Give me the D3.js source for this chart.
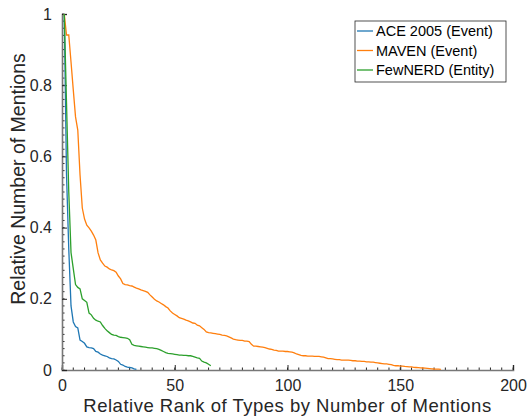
<!DOCTYPE html>
<html>
<head>
<meta charset="utf-8">
<script src="https://cdn.jsdelivr.net/npm/d3@7"></script>
<style>
	body { margin: 0; background: #fff; }
	svg { display: block; font-family: "Liberation Sans", Arial, sans-serif; }
</style>
</head>
<body>
<svg id="chart" width="529" height="416"></svg>
<script>
var seriesNames = ["ACE 2005 (Event)", "MAVEN (Event)", "FewNERD (Entity)"],
		seriesColors = ["#1f77b4", "#ff7f0e", "#2ca02c"];

// relative number of mentions, by rank 1..N
var ace = [1.0, 0.55, 0.34, 0.18, 0.135, 0.122, 0.118, 0.084, 0.080, 0.075,
	0.065, 0.063, 0.062, 0.060, 0.052, 0.050, 0.045, 0.042, 0.040, 0.038,
	0.034, 0.032, 0.031, 0.028, 0.024, 0.016, 0.014, 0.010, 0.008, 0.007,
	0.006, 0.003, 0.002];

var maven = [1.0, 0.941, 0.941, 0.865, 0.787, 0.711, 0.674, 0.548, 0.455, 0.424,
	0.407, 0.399, 0.390, 0.379, 0.365, 0.329, 0.309, 0.300, 0.292, 0.289,
	0.284, 0.281, 0.279, 0.275, 0.264, 0.256, 0.243, 0.240, 0.239, 0.237,
	0.236, 0.233, 0.230, 0.228, 0.225, 0.223, 0.221, 0.218, 0.211, 0.205,
	0.199, 0.194, 0.191, 0.187, 0.183, 0.178, 0.174, 0.166, 0.160, 0.156,
	0.152, 0.147, 0.145, 0.143, 0.140, 0.138, 0.135, 0.132, 0.131, 0.126,
	0.124, 0.119, 0.114, 0.107, 0.105, 0.104, 0.103, 0.102, 0.101, 0.100,
	0.098, 0.097, 0.096, 0.093, 0.090, 0.087, 0.085, 0.084, 0.083, 0.083,
	0.081, 0.081, 0.080, 0.072, 0.067, 0.067, 0.066, 0.065, 0.064, 0.063,
	0.061, 0.059, 0.058, 0.056, 0.055, 0.053, 0.053, 0.053, 0.052, 0.052,
	0.051, 0.050, 0.048, 0.045, 0.043, 0.041, 0.040, 0.040, 0.039, 0.039,
	0.039, 0.038, 0.038, 0.038, 0.037, 0.036, 0.034, 0.032, 0.032, 0.031,
	0.030, 0.029, 0.029, 0.028, 0.028, 0.028, 0.028, 0.027, 0.026, 0.026,
	0.025, 0.025, 0.024, 0.024, 0.023, 0.023, 0.022, 0.022, 0.021, 0.020,
	0.019, 0.018, 0.017, 0.017, 0.016, 0.015, 0.013, 0.012, 0.012, 0.011,
	0.011, 0.010, 0.0095, 0.009, 0.0085, 0.0075, 0.007, 0.0065, 0.006, 0.0056,
	0.005, 0.0045, 0.004, 0.0034, 0.0028, 0.0025, 0.0022, 0.002];

var fewnerd = [1.0, 0.75, 0.50, 0.33, 0.285, 0.24, 0.232, 0.228, 0.200, 0.195,
	0.190, 0.160, 0.155, 0.145, 0.140, 0.137, 0.135, 0.125, 0.117, 0.110,
	0.105, 0.100, 0.098, 0.097, 0.094, 0.092, 0.091, 0.090, 0.089, 0.085,
	0.072, 0.069, 0.068, 0.067, 0.066, 0.065, 0.064, 0.063, 0.062, 0.062,
	0.061, 0.060, 0.058, 0.055, 0.052, 0.049, 0.047, 0.046, 0.045, 0.044,
	0.043, 0.042, 0.042, 0.041, 0.041, 0.040, 0.040, 0.038, 0.036, 0.034,
	0.033, 0.025, 0.022, 0.020, 0.016, 0.012];

var xTicks = [0, 50, 100, 150, 200],
		yTicks = [0, 0.2, 0.4, 0.6, 0.8, 1];

var svg = d3.select("#chart");
var margin = {top: 14, right: 16, bottom: 46, left: 62};
var width = 529 - margin.left - margin.right,
		height = 416 - margin.top - margin.bottom;

var x = d3.scaleLinear().domain([0, 200]).range([0, 451]),
		y = d3.scaleLinear().domain([0, 1]).range([height, 0]);

var g = svg.append("g")
		.attr("transform", "translate(" + margin.left + "," + margin.top + ")");

// minor ticks
g.append("g").selectAll("line")
	.data(d3.range(0, 201, 5))
	.enter().append("line")
		.attr("x1", function(d) { return x(d); })
		.attr("x2", function(d) { return x(d); })
		.attr("y1", height)
		.attr("y2", height - 2.5)
		.attr("stroke", "#262626");
g.append("g").selectAll("line")
	.data(d3.range(0, 1.001, 0.02))
	.enter().append("line")
		.attr("y1", function(d) { return y(d); })
		.attr("y2", function(d) { return y(d); })
		.attr("x1", 0)
		.attr("x2", 2.5)
		.attr("stroke", "#262626");

var xAxis = d3.axisBottom(x).tickValues(xTicks).tickSize(-5).tickPadding(6),
		yAxis = d3.axisLeft(y).tickValues(yTicks).tickSize(-5).tickPadding(10)
			.tickFormat(function(d) { return d3.format("")(d); });

var gx = g.append("g")
		.attr("transform", "translate(0," + height + ")")
		.call(xAxis);
var gy = g.append("g").call(yAxis);

[gx, gy].forEach(function(ax) {
	ax.select(".domain").attr("stroke", "#777").attr("stroke-width", 1.6);
	ax.selectAll(".tick line").attr("stroke", "#262626");
	ax.selectAll(".tick text")
		.attr("fill", "#262626")
		.style("font-size", "16px")
		.style("font-family", "Liberation Sans, Arial, sans-serif");
});
gx.selectAll(".tick text").attr("dy", "0.95em");

var line = d3.line()
		.x(function(d, i) { return x(i + 1); })
		.y(function(d) { return y(d); });

[ace, maven, fewnerd].forEach(function(data, i) {
	g.append("path")
		.datum(data)
		.attr("fill", "none")
		.attr("stroke", seriesColors[i])
		.attr("stroke-width", 1.3)
		.attr("d", line);
});

// axis titles
svg.append("text")
	.attr("x", margin.left + 451 / 2)
	.attr("y", 412)
	.attr("text-anchor", "middle")
	.attr("fill", "#262626")
	.style("font-size", "18.5px")
	.style("letter-spacing", "0.5px")
	.text("Relative Rank of Types by Number of Mentions");

svg.append("text")
	.attr("transform", "translate(25,179) rotate(-90)")
	.attr("text-anchor", "middle")
	.attr("fill", "#262626")
	.style("font-size", "19.5px")
	.text("Relative Number of Mentions");

// legend
var legend = svg.append("g")
		.attr("transform", "translate(355,21)");

legend.append("rect")
	.attr("width", 151)
	.attr("height", 61)
	.attr("fill", "#fff")
	.attr("stroke", "#262626")
	.attr("stroke-width", 0.8);

seriesNames.forEach(function(name, i) {
	var row = legend.append("g")
			.attr("transform", "translate(0," + (10 + i * 19.5) + ")");
	row.append("line")
		.attr("x1", 2)
		.attr("x2", 18)
		.attr("stroke", seriesColors[i])
		.attr("stroke-width", 1.3);
	row.append("text")
		.attr("x", 21)
		.attr("dy", "0.35em")
		.attr("fill", "#000")
		.style("font-size", "14.5px")
		.text(name);
});
</script>
</body>
</html>
